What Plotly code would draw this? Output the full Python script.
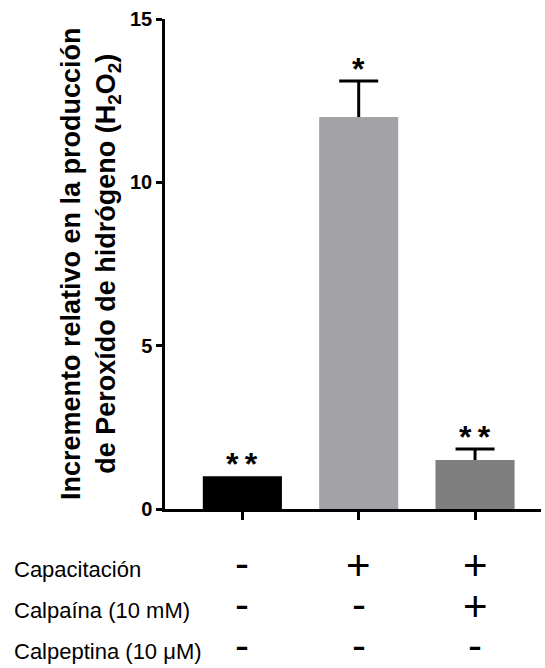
import plotly.graph_objects as go

# Relative H2O2 production per treatment group
groups = [0, 1, 2]
values = [1.0, 12.0, 1.5]
err_up = [0.0, 1.1, 0.34]
bar_colors = ["#000000", "#a3a2a7", "#7f7f7f"]
significance = ["*\u2009*", "*", "*\u2009*"]

# y ticks
y_ticks = [0, 5, 10, 15]

# Treatment table shown under the axis
row_labels = ["Capacitación", "Calpaína (10 mM)", "Calpeptina (10 \u03bcM)"]
row_marks = [
    ["-", "+", "+"],
    ["-", "-", "+"],
    ["-", "-", "-"],
]

FONT = "Liberation Sans, Arial, Helvetica, sans-serif"

W, H = 545, 668
L, R, T, B = 165, 4, 19, 159
plot_h = H - T - B
plot_w = W - L - R
X_RANGE = [-0.665, 2.567]
CAP_PX = 19.5


def py_to_paper(py):
    return (H - B - py) / plot_h


def px_to_paper(px):
    return (px - L) / plot_w


cap_half = CAP_PX * (X_RANGE[1] - X_RANGE[0]) / plot_w
tops = [v + e for v, e in zip(values, err_up)]
caps = [cap_half if e > 0 else 0 for e in err_up]

fig = go.Figure()
fig.add_trace(go.Bar(
    x=groups,
    y=values,
    width=0.68,
    marker=dict(color=bar_colors, line=dict(width=0)),
    showlegend=False,
    hoverinfo="skip",
))

# upper-only SEM whiskers: stem down to the bar top, cap at the end
fig.add_trace(go.Scatter(
    x=groups,
    y=tops,
    mode="markers",
    marker=dict(size=0.1, color="rgba(0,0,0,0)"),
    error_y=dict(type="data", symmetric=False, array=[0, 0, 0],
                 arrayminus=err_up, color="#000000", thickness=3, width=0),
    error_x=dict(type="data", array=caps, color="#000000",
                 thickness=3, width=0),
    showlegend=False,
    hoverinfo="skip",
))

# significance marks above each bar
for g, top, s in zip(groups, tops, significance):
    fig.add_annotation(
        x=g, y=top, xref="x", yref="y", text=s, showarrow=False,
        xanchor="center", yanchor="bottom", yshift=-8,
        font=dict(family=FONT, size=32, color="#000000", weight="bold"),
    )

# y-axis title (two lines)
fig.add_annotation(
    x=px_to_paper(90), y=0.5, xref="paper", yref="paper",
    text="<b>Incremento relativo en la producción<br>de Peroxído de hidrógeno (H<sub>2</sub>O<sub>2</sub>)</b>",
    textangle=-90, showarrow=False, xanchor="center", yanchor="middle",
    align="center",
    font=dict(family=FONT, size=27, color="#000000", weight="bold"),
)

row_y = [569, 610, 651]
for label, ry, marks in zip(row_labels, row_y, row_marks):
    fig.add_annotation(
        x=px_to_paper(12), y=py_to_paper(ry), xref="paper", yref="paper",
        text=label, showarrow=False, xanchor="left", yanchor="middle",
        font=dict(family=FONT, size=22, color="#000000"),
    )
    for g, m in zip(groups, marks):
        fig.add_annotation(
            x=g, y=py_to_paper(ry), xref="x", yref="paper",
            text=m, showarrow=False, xanchor="center", yanchor="middle",
            yshift=4 if m == "+" else 6,
            font=dict(family=FONT, size=42, color="#000000"),
        )

fig.update_layout(
    width=W, height=H,
    margin=dict(l=L, r=R, t=T, b=B, pad=0),
    paper_bgcolor="#ffffff", plot_bgcolor="#ffffff",
    xaxis=dict(
        range=X_RANGE, tickvals=groups, ticktext=["", "", ""],
        showline=True, linecolor="#000000", linewidth=2.5,
        ticks="outside", ticklen=8, tickwidth=2.5, tickcolor="#000000",
        showgrid=False, zeroline=False, fixedrange=True,
    ),
    yaxis=dict(
        range=[0, 15], tickvals=y_ticks,
        ticktext=[f"<b>{t}</b>" for t in y_ticks],
        showline=True, linecolor="#000000", linewidth=2.5,
        ticks="outside", ticklen=6, tickwidth=2.5, tickcolor="#000000",
        showgrid=False, zeroline=False, fixedrange=True,
        tickfont=dict(family=FONT, size=20, color="#000000", weight="bold"),
    ),
)

fig.write_html("out.html")
